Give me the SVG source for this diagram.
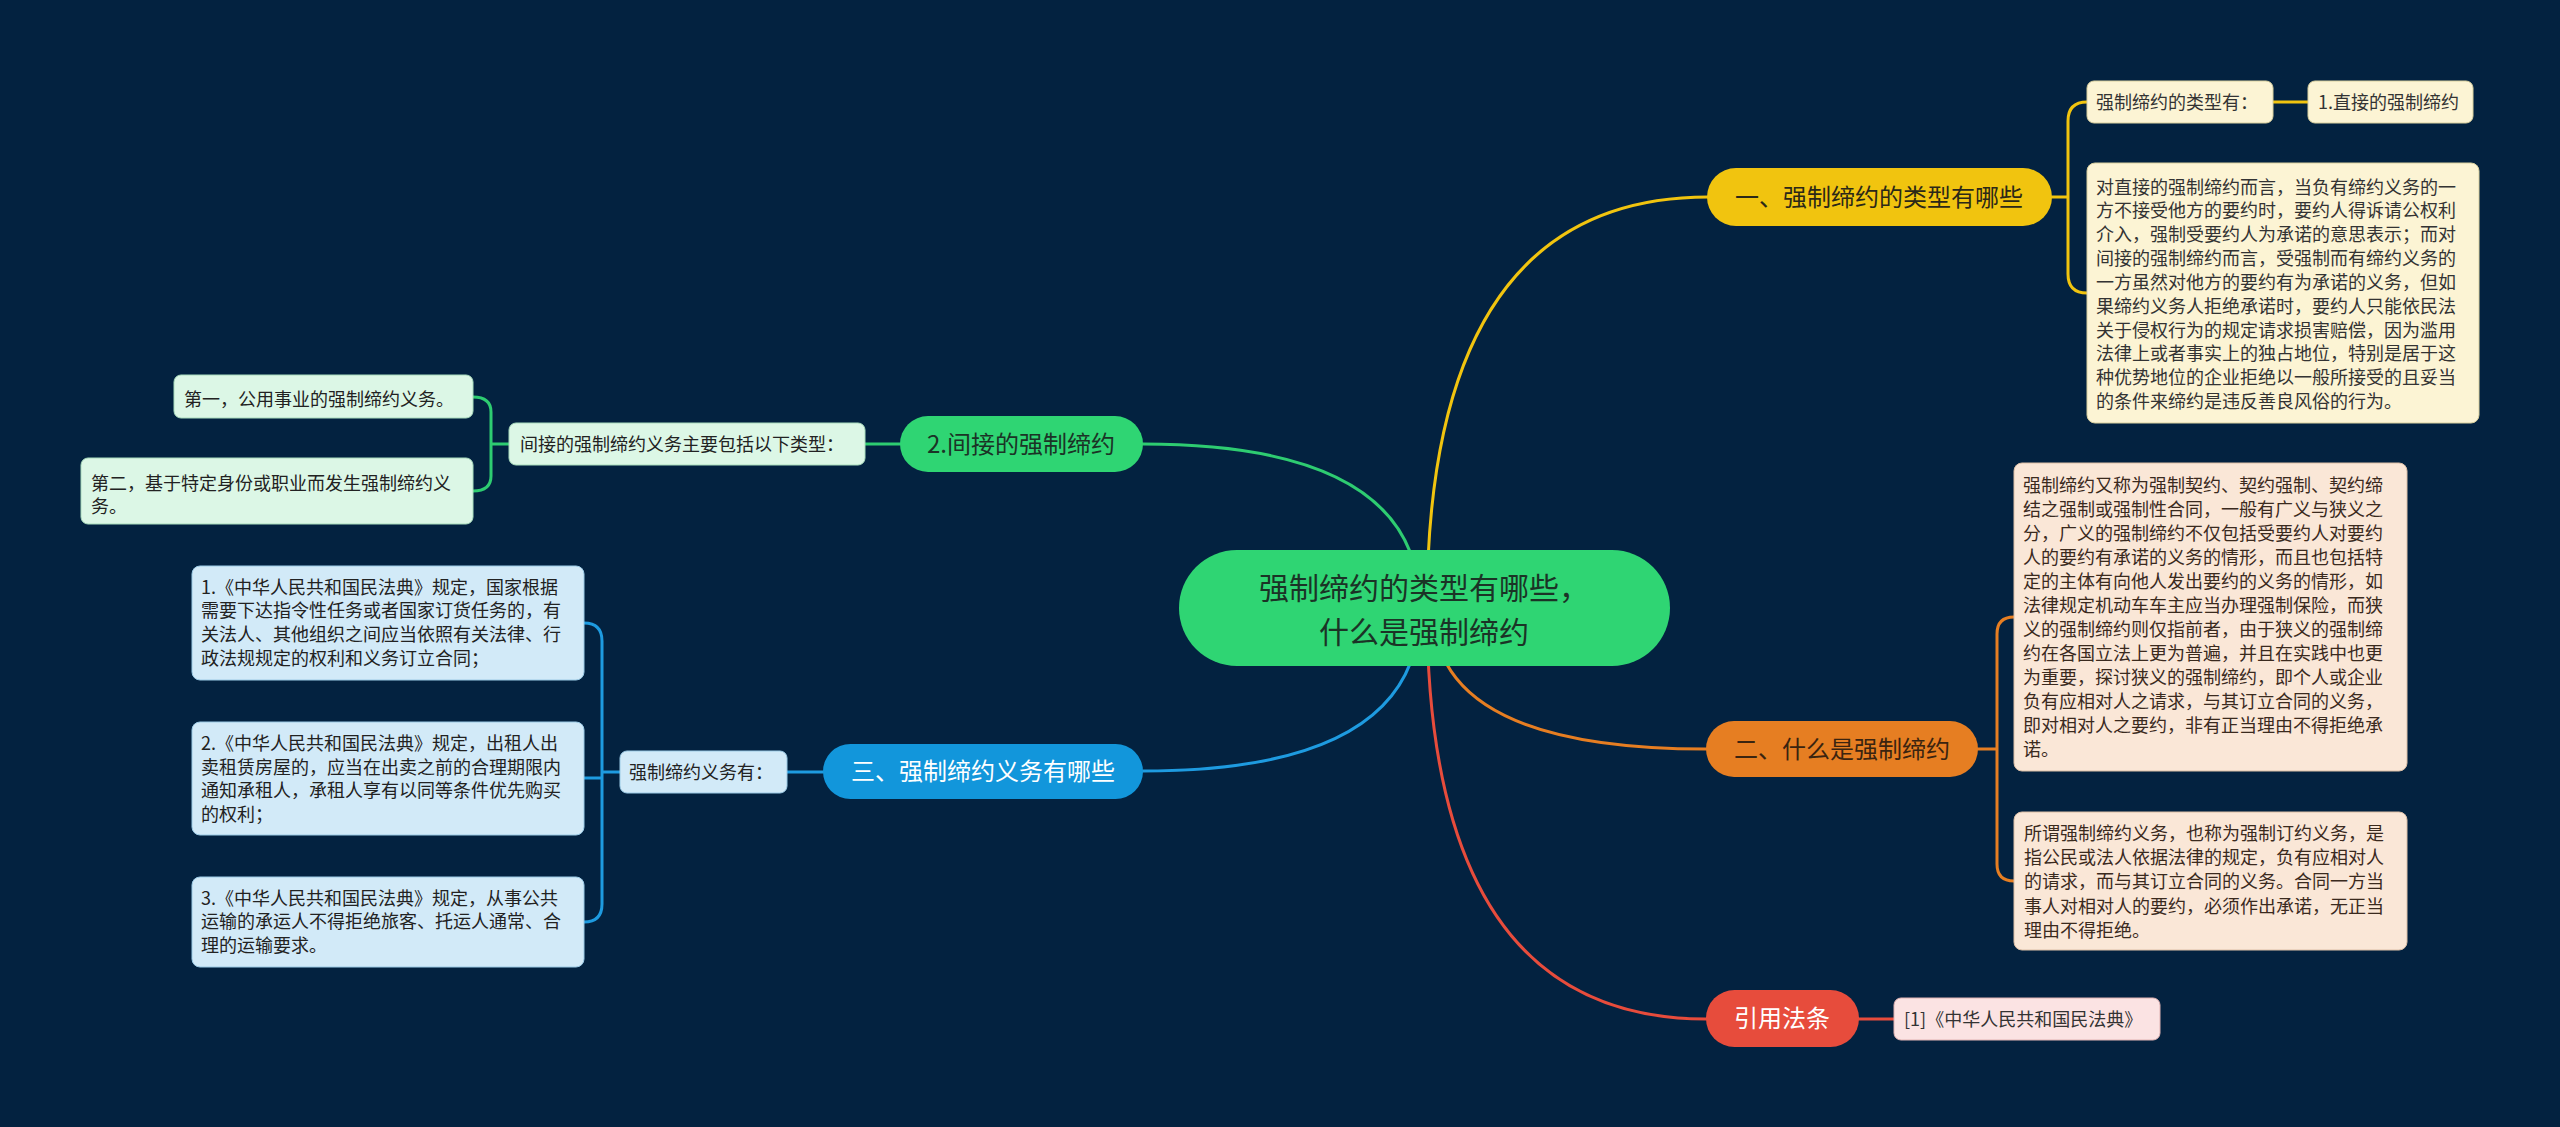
<svg xmlns="http://www.w3.org/2000/svg" width="2560" height="1127" viewBox="0 0 2560 1127">
<style>
text{font-family:"Noto Sans CJK SC","Noto Sans",sans-serif}
.root-t{font-size:30px;fill:#1b3326}
.pill-t{font-size:24px}
.t18{font-size:18px}
.conn{fill:none;stroke-width:3;stroke-linecap:round}
.c-y{stroke:#f1c40f}.c-g{stroke:#2ecc71}.c-b{stroke:#1e9be0}.c-o{stroke:#e67e22}.c-r{stroke:#e74c3c}
.box{stroke-width:1}
</style>
<rect x="0" y="0" width="2560" height="1127" fill="#032240"/>
<g id="connectors">
<path class="conn c-y" d="M1427 608 Q1427 197 1708 197"/>
<path class="conn c-g" d="M1420 608 Q1420 444 1143 444"/>
<path class="conn c-b" d="M1420 608 Q1420 771 1143 771"/>
<path class="conn c-o" d="M1433 608 Q1433 749 1706 749"/>
<path class="conn c-r" d="M1427 608 Q1427 1019 1706 1019"/>
<path class="conn c-y" d="M2052 197 L2068 197 M2087 102 Q2068 102 2068 121 L2068 274 Q2068 293 2087 293 M2273 102 L2308 102"/>
<path class="conn c-g" d="M900 444 L865 444 M509 444 L491 444 M473 397 Q491 397 491 412 L491 476 Q491 491 473 491"/>
<path class="conn c-b" d="M823 772 L787 772 M620 772 L602 772 M584 623 Q602 623 602 641 L602 904 Q602 922 584 922 M602 778 L584 778"/>
<path class="conn c-o" d="M1978 749 L1997 749 M2014 617 Q1997 617 1997 634 L1997 864 Q1997 881 2014 881"/>
<path class="conn c-r" d="M1859 1019 L1894 1019"/>
</g>
<g id="root">
<rect x="1179" y="550" width="491" height="116" rx="58" fill="#2fd573"/>
<text class="root-t" text-anchor="middle"><tspan x="1424" y="599">强制缔约的类型有哪些，</tspan><tspan x="1424" y="643">什么是强制缔约</tspan></text>
</g>
<g id="branch1">
<rect x="1707" y="168" width="345" height="58" rx="29" fill="#f1c40f"/>
<text class="pill-t" x="1879" y="206" text-anchor="middle" fill="#2b2818">一、强制缔约的类型有哪些</text>
</g>
<g id="b1-label">
<rect class="box" x="2087" y="81" width="186" height="42" rx="7" fill="#fcf4d4" stroke="#d8cf9e"/>
<text class="t18" x="2096" y="109" fill="#333">强制缔约的类型有：</text>
</g>
<g id="b1-direct">
<rect class="box" x="2308" y="81" width="165" height="42" rx="7" fill="#fcf4d4" stroke="#d8cf9e"/>
<text class="t18" x="2318" y="109" fill="#333">1.直接的强制缔约</text>
</g>
<g id="b1-detail">
<rect class="box" x="2087" y="163" width="392" height="260" rx="8" fill="#fcf4d4" stroke="#d8cf9e"/>
<text class="t18" fill="#333"><tspan x="2096" y="193.5">对直接的强制缔约而言，当负有缔约义务的一</tspan><tspan x="2096" dy="23.85">方不接受他方的要约时，要约人得诉请公权利</tspan><tspan x="2096" dy="23.85">介入，强制受要约人为承诺的意思表示；而对</tspan><tspan x="2096" dy="23.85">间接的强制缔约而言，受强制而有缔约义务的</tspan><tspan x="2096" dy="23.85">一方虽然对他方的要约有为承诺的义务，但如</tspan><tspan x="2096" dy="23.85">果缔约义务人拒绝承诺时，要约人只能依民法</tspan><tspan x="2096" dy="23.85">关于侵权行为的规定请求损害赔偿，因为滥用</tspan><tspan x="2096" dy="23.85">法律上或者事实上的独占地位，特别是居于这</tspan><tspan x="2096" dy="23.85">种优势地位的企业拒绝以一般所接受的且妥当</tspan><tspan x="2096" dy="23.85">的条件来缔约是违反善良风俗的行为。</tspan></text>
</g>
<g id="branch2">
<rect x="900" y="416" width="243" height="56" rx="28" fill="#2fd573"/>
<text class="pill-t" x="1021" y="453" text-anchor="middle" fill="#1b3326">2.间接的强制缔约</text>
</g>
<g id="b2-label">
<rect class="box" x="509" y="423" width="356" height="42" rx="7" fill="#dcf7e6" stroke="#a9dcbd"/>
<text class="t18" x="520" y="451" fill="#222">间接的强制缔约义务主要包括以下类型：</text>
</g>
<g id="b2-first">
<rect class="box" x="174" y="375" width="299" height="43" rx="7" fill="#dcf7e6" stroke="#a9dcbd"/>
<text class="t18" x="184" y="406" fill="#222">第一，公用事业的强制缔约义务。</text>
</g>
<g id="b2-second">
<rect class="box" x="81" y="458" width="392" height="66" rx="7" fill="#dcf7e6" stroke="#a9dcbd"/>
<text class="t18" fill="#222"><tspan x="91" y="490">第二，基于特定身份或职业而发生强制缔约义</tspan><tspan x="91" dy="23.4">务。</tspan></text>
</g>
<g id="branch3">
<rect x="823" y="744" width="320" height="55" rx="27.5" fill="#1296db"/>
<text class="pill-t" x="983" y="780" text-anchor="middle" fill="#ffffff">三、强制缔约义务有哪些</text>
</g>
<g id="b3-label">
<rect class="box" x="620" y="751" width="167" height="42" rx="7" fill="#d2eaf8" stroke="#9ccbe6"/>
<text class="t18" x="629" y="779" fill="#222">强制缔约义务有：</text>
</g>
<g id="b3-item1">
<rect class="box" x="192" y="566" width="392" height="114" rx="8" fill="#d2eaf8" stroke="#9ccbe6"/>
<text class="t18" fill="#222"><tspan x="201" y="593.5">1.《中华人民共和国民法典》规定，国家根据</tspan><tspan x="201" dy="23.9">需要下达指令性任务或者国家订货任务的，有</tspan><tspan x="201" dy="23.9">关法人、其他组织之间应当依照有关法律、行</tspan><tspan x="201" dy="23.9">政法规规定的权利和义务订立合同；</tspan></text>
</g>
<g id="b3-item2">
<rect class="box" x="192" y="722" width="392" height="113" rx="8" fill="#d2eaf8" stroke="#9ccbe6"/>
<text class="t18" fill="#222"><tspan x="201" y="750">2.《中华人民共和国民法典》规定，出租人出</tspan><tspan x="201" dy="23.7">卖租赁房屋的，应当在出卖之前的合理期限内</tspan><tspan x="201" dy="23.7">通知承租人，承租人享有以同等条件优先购买</tspan><tspan x="201" dy="23.7">的权利；</tspan></text>
</g>
<g id="b3-item3">
<rect class="box" x="192" y="877" width="392" height="90" rx="8" fill="#d2eaf8" stroke="#9ccbe6"/>
<text class="t18" fill="#222"><tspan x="201" y="904.5">3.《中华人民共和国民法典》规定，从事公共</tspan><tspan x="201" dy="23.7">运输的承运人不得拒绝旅客、托运人通常、合</tspan><tspan x="201" dy="23.7">理的运输要求。</tspan></text>
</g>
<g id="branch4">
<rect x="1706" y="721" width="272" height="56" rx="28" fill="#e67e22"/>
<text class="pill-t" x="1842" y="758" text-anchor="middle" fill="#3a2410">二、什么是强制缔约</text>
</g>
<g id="b4-detail1">
<rect class="box" x="2014" y="463" width="393" height="308" rx="8" fill="#fae7d7" stroke="#dcbfa6"/>
<text class="t18" fill="#3a2a1e"><tspan x="2023" y="491.8">强制缔约又称为强制契约、契约强制、契约缔</tspan><tspan x="2023" dy="24">结之强制或强制性合同，一般有广义与狭义之</tspan><tspan x="2023" dy="24">分，广义的强制缔约不仅包括受要约人对要约</tspan><tspan x="2023" dy="24">人的要约有承诺的义务的情形，而且也包括特</tspan><tspan x="2023" dy="24">定的主体有向他人发出要约的义务的情形，如</tspan><tspan x="2023" dy="24">法律规定机动车车主应当办理强制保险，而狭</tspan><tspan x="2023" dy="24">义的强制缔约则仅指前者，由于狭义的强制缔</tspan><tspan x="2023" dy="24">约在各国立法上更为普遍，并且在实践中也更</tspan><tspan x="2023" dy="24">为重要，探讨狭义的强制缔约，即个人或企业</tspan><tspan x="2023" dy="24">负有应相对人之请求，与其订立合同的义务，</tspan><tspan x="2023" dy="24">即对相对人之要约，非有正当理由不得拒绝承</tspan><tspan x="2023" dy="24">诺。</tspan></text>
</g>
<g id="b4-detail2">
<rect class="box" x="2014" y="812" width="393" height="138" rx="8" fill="#fae7d7" stroke="#dcbfa6"/>
<text class="t18" fill="#3a2a1e"><tspan x="2024" y="839.8">所谓强制缔约义务，也称为强制订约义务，是</tspan><tspan x="2024" dy="24.3">指公民或法人依据法律的规定，负有应相对人</tspan><tspan x="2024" dy="24.3">的请求，而与其订立合同的义务。合同一方当</tspan><tspan x="2024" dy="24.3">事人对相对人的要约，必须作出承诺，无正当</tspan><tspan x="2024" dy="24.3">理由不得拒绝。</tspan></text>
</g>
<g id="branch5">
<rect x="1706" y="990" width="153" height="57" rx="28.5" fill="#e74c3c"/>
<text class="pill-t" x="1782" y="1027" text-anchor="middle" fill="#ffffff">引用法条</text>
</g>
<g id="b5-ref">
<rect class="box" x="1894" y="998" width="266" height="42" rx="7" fill="#fbe3e3" stroke="#e0b3b3"/>
<text class="t18" x="1904" y="1026" fill="#333">[1]《中华人民共和国民法典》</text>
</g>
</svg>
